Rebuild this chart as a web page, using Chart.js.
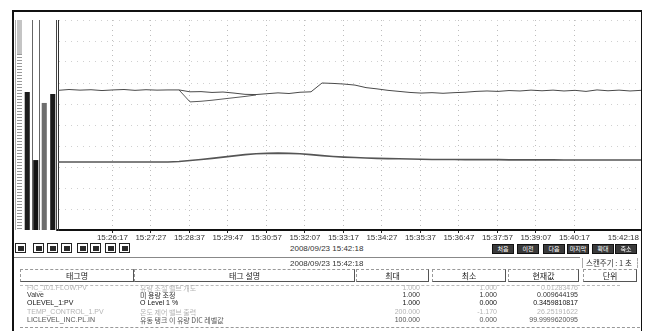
<!DOCTYPE html>
<html>
<head>
<meta charset="utf-8">
<script src="https://cdn.jsdelivr.net/npm/chart.js@4.4.1/dist/chart.umd.min.js"></script>
<style>
  body { margin: 0; background: #fff; width: 649px; height: 331px; overflow: hidden; position: relative;
         font-family: "Liberation Sans", Arial, sans-serif; color: #222; }
  .a { position: absolute; }
  .ln { position: absolute; background: #111; }
  .ic { position: absolute; top: 243px; width: 9px; height: 8px; border: 1px solid #222;
        background: linear-gradient(#2a2a2a, #2a2a2a) center / 6px 5px no-repeat, #fff; }
  .bt { position: absolute; top: 244px; width: 20px; height: 8px; border: 1px solid #111; background: #3a3a3a;
        color: #fff; font: 6px "Noto Sans CJK KR", sans-serif; line-height: 8px; text-align: center; overflow: hidden; }
  .hd { position: absolute; top: 269px; height: 11px; border: 1px dashed #999; border-right: 1px solid #555;
        border-bottom: 1px solid #555; font: 8px "Noto Sans CJK KR", sans-serif; line-height: 11px; text-align: center; color: #222; }
  .c { position: absolute; font-size: 7px; line-height: 8px; white-space: nowrap; color: #333; }
  .k { font-family: "Noto Sans CJK KR", sans-serif; }
  .f { color: #b5b5b5; }
  .r { text-align: right; }
</style>
</head>
<body>
<canvas id="trend" class="a" style="left:0;top:0;width:649px;height:244px" width="649" height="244"></canvas>
<canvas id="gauge" class="a" style="left:23px;top:20px;width:34px;height:210px" width="34" height="210"></canvas>

<!-- frame -->
<div class="ln" style="left:12px;top:10px;width:2px;height:321px"></div>
<div class="ln" style="left:12px;top:10px;width:630px;height:2px"></div>
<div class="ln" style="left:641px;top:10px;width:1px;height:321px"></div>
<div class="ln" style="left:56px;top:20px;width:1px;height:211px;background:#444"></div>
<div class="ln" style="left:32px;top:20px;width:1px;height:210px;background:#666"></div>
<div class="ln" style="left:39px;top:20px;width:1px;height:210px;background:#666"></div>
<div class="ln" style="left:15px;top:20px;width:1px;height:210px;background:#aaa"></div>
<div class="a" style="left:17px;top:20px;width:5px;height:34px;background:#c4c4c4"></div>
<div class="a" style="left:17px;top:54px;width:5px;height:176px;background:repeating-linear-gradient(to bottom,#999 0 1px,transparent 1px 3px)"></div>

<!-- button row -->
<div class="ic" style="left:15px"></div>
<div class="ic" style="left:33px"></div>
<div class="ic" style="left:47px"></div>
<div class="ic" style="left:61px"></div>
<div class="ic" style="left:77px"></div>
<div class="ic" style="left:90px"></div>
<div class="ic" style="left:105px"></div>
<div class="ic" style="left:119px"></div>
<div class="c" style="left:290px;top:245px;font-size:8px">2008/09/23 15:42:18</div>
<div class="bt" style="left:492px">처음</div>
<div class="bt" style="left:517px">이전</div>
<div class="bt" style="left:543px">다음</div>
<div class="bt" style="left:567px">마지막</div>
<div class="bt" style="left:592px">확대</div>
<div class="bt" style="left:615px">축소</div>
<div class="a" style="left:14px;top:257px;width:566px;height:0;border-top:1px solid #888"></div>

<!-- table -->
<div class="c" style="left:290px;top:260px;font-size:8px">2008/09/23 15:42:18</div>
<div class="a" style="left:582px;top:258px;width:54px;height:10px;border-left:1px solid #aaa;border-right:1px dashed #aaa"></div>
<div class="c k" style="left:586px;top:259px;font-size:7.5px">스캔주기 : 1 초</div>
<div class="hd" style="left:20px;width:112px">태그명</div>
<div class="hd" style="left:134px;width:219px">태그 설명</div>
<div class="hd" style="left:356px;width:71px">최대</div>
<div class="hd" style="left:432px;width:72px">최소</div>
<div class="hd" style="left:508px;width:69px">현재값</div>
<div class="hd" style="left:583px;width:52px">단위</div>
<div class="a" style="left:20px;top:285px;width:600px;height:0;border-top:1px dashed #bbb"></div>

<div class="c f" style="left:27px;top:284px">FIC_101.FLOW.PV</div>
<div class="c f k" style="left:140px;top:284px">유량 조절 밸브 개도</div>
<div class="c f r" style="left:380px;top:284px;width:40px">1.000</div>
<div class="c f r" style="left:457px;top:284px;width:40px">1.000</div>
<div class="c f r" style="left:520px;top:284px;width:58px">0.01283476</div>

<div class="c" style="left:27px;top:291px">Valve</div>
<div class="c k" style="left:140px;top:291px">미 용량 조정</div>
<div class="c r" style="left:380px;top:291px;width:40px">1.000</div>
<div class="c r" style="left:457px;top:291px;width:40px">1.000</div>
<div class="c r" style="left:510px;top:291px;width:68px">0.009644195</div>

<div class="c" style="left:27px;top:299px;color:#111">OLEVEL_1:PV</div>
<div class="c" style="left:140px;top:299px;color:#111">O Level 1 %</div>
<div class="c r" style="left:380px;top:299px;width:40px;color:#111">1.000</div>
<div class="c r" style="left:457px;top:299px;width:40px;color:#111">0.000</div>
<div class="c r" style="left:510px;top:299px;width:68px;color:#111">0.3459810817</div>

<div class="c f" style="left:27px;top:308px">TEMP_CONTROL_1.PV</div>
<div class="c f k" style="left:140px;top:308px">온도 제어 밸브 출력</div>
<div class="c f r" style="left:380px;top:308px;width:40px">200.000</div>
<div class="c f r" style="left:457px;top:308px;width:40px">-1.170</div>
<div class="c f r" style="left:510px;top:308px;width:68px">26.25191622</div>

<div class="c" style="left:27px;top:316px;color:#555">LICLEVEL_INC.PL.IN</div>
<div class="c k" style="left:140px;top:316px;color:#555">유동 탱크 이 유량 DIC 레벨값</div>
<div class="c r" style="left:380px;top:316px;width:40px;color:#555">100.000</div>
<div class="c r" style="left:457px;top:316px;width:40px;color:#555">0.000</div>
<div class="c r" style="left:510px;top:316px;width:68px;color:#555">99.9999620095</div>
<div class="a" style="left:20px;top:327px;width:620px;height:0;border-top:1px dashed #999"></div>

<script>
// sample times, seconds after 15:24:18
const sampleSec = [20, 40, 60, 80, 100, 120, 140, 160, 180, 200, 220, 240, 260, 280, 300, 320, 340, 360,
  380, 400, 420, 440, 460, 480, 500, 520, 540, 560, 580, 600, 620, 640, 660, 680, 700, 720,
  740, 760, 780, 800, 820, 840, 860, 880, 900, 920, 940, 960, 980, 1000, 1020, 1040, 1060, 1080];

// upper trace (noisy level)
const upperLevel = [66.5, 66.9, 66.6, 66.8, 66.4, 66.7, 66.9, 66.5, 66.8, 66.6, 66.7, 66.7,
  65.8, 65.9, 65.5, 65.7, 65.2, 64.6, 64.5, 64.9, 65.3, 65.0, 65.6, 65.8,
  70.0, 69.8, 69.5, 69.0, 67.8, 67.2, 66.5, 66.0, 65.5, 65.2, 65.4, 65.1, 65.4, 65.6, 66.0,
  66.2, 66.0, 66.4, 66.2, 66.6, 66.3, 66.6, 66.2, 66.5, 66.0, 66.7, 66.3, 66.6, 66.2, 66.5];

// lower branch of the upper trace where it splits
const upperBand = [null, null, null, null, null, null, null, null, null, null, null, 66.7,
  61.0, 61.3, 61.8, 62.4, 63.0, 63.6, 64.3, null, null, null, null, null,
  null, null, null, null, null, null, null, null, null, null, null, null, null, null, null,
  null, null, null, null, null, null, null, null, null, null, null, null, null, null, null];

// lower trace (smooth)
const lowerLevel = [32.4, 32.4, 32.4, 32.4, 32.4, 32.4, 32.4, 32.4, 32.4, 32.4, 32.4,
  32.6, 33.1, 33.6, 34.1, 34.7, 35.3, 35.9, 36.3, 36.5, 36.6, 36.5, 36.3, 35.9, 35.4, 35.0,
  34.7, 34.5, 34.3, 34.1, 34.0, 33.9, 33.8, 33.7,
  33.6, 33.6, 33.6, 33.5, 33.5, 33.5, 33.5, 33.4, 33.4, 33.4, 33.4, 33.4, 33.3, 33.3, 33.3,
  33.3, 33.3, 33.3, 33.3, 33.3];

const tickSec = [119, 189, 259, 329, 399, 469, 539, 609, 679, 749, 819, 889, 959, 1080];
const tickText = ['15:26:17', '15:27:27', '15:28:37', '15:29:47', '15:30:57', '15:32:07', '15:33:17',
  '15:34:27', '15:35:37', '15:36:47', '15:37:57', '15:39:07', '15:40:17', '15:42:18'];

// bar gauges at left (current values)
const gaugeTags = ['Valve', 'OLEVEL_1', 'TEMP_1', 'LICLEVEL'];
const gaugeValues = [65.7, 33.3, 60.5, 64.8];

const pts = arr => sampleSec.map((t, i) => ({ x: t, y: arr[i] }));

const timeLabels = {
  id: 'timeLabels',
  afterDraw(chart) {
    const { ctx, chartArea, scales: { x } } = chart;
    ctx.save();
    ctx.font = '8px "Liberation Sans", Arial, sans-serif';
    ctx.fillStyle = '#333';
    ctx.textBaseline = 'top';
    x.ticks.forEach((t, i) => {
      const px = x.getPixelForValue(t.value);
      const last = i === x.ticks.length - 1;
      ctx.textAlign = last ? 'right' : 'center';
      ctx.fillText(tickText[i], last ? px - 2 : px, chartArea.bottom + 4);
    });
    ctx.restore();
  }
};

new Chart(document.getElementById('trend'), {
  type: 'line',
  data: {
    datasets: [
      { label: 'upper', data: pts(upperLevel), borderColor: '#4a4a4a', borderWidth: 1, pointRadius: 0, tension: 0 },
      { label: 'band', data: pts(upperBand), borderColor: '#5a5a5a', borderWidth: 1, pointRadius: 0, tension: 0, spanGaps: false },
      { label: 'lower', data: pts(lowerLevel), borderColor: '#555', borderWidth: 1.6, pointRadius: 0, tension: 0 }
    ]
  },
  options: {
    responsive: false,
    animation: false,
    layout: { padding: { left: 58, right: 8, top: 20, bottom: 11 } },
    plugins: { legend: { display: false }, tooltip: { enabled: false } },
    scales: {
      x: {
        type: 'linear', min: 20, max: 1080,
        afterBuildTicks: s => { s.ticks = tickSec.map(v => ({ value: v })); },
        ticks: { display: false },
        grid: { color: '#bdbdbd', drawTicks: true, tickLength: 3, tickColor: '#222' },
        border: { display: true, color: '#111', width: 2, dash: [1, 4] }
      },
      y: {
        min: 0, max: 100,
        ticks: { display: false, stepSize: 10 },
        grid: { color: '#d0d0d0', drawTicks: false },
        border: { display: true, color: '#333', width: 1, dash: [1, 5] }
      }
    }
  },
  plugins: [timeLabels]
});

new Chart(document.getElementById('gauge'), {
  type: 'bar',
  data: {
    labels: gaugeTags,
    datasets: [{ data: gaugeValues, backgroundColor: ['#1c1c1c', '#141414', '#6e6e6e', '#1c1c1c'],
                 categoryPercentage: 1, barPercentage: 0.6 }]
  },
  options: {
    responsive: false,
    animation: false,
    layout: { padding: 0 },
    plugins: { legend: { display: false }, tooltip: { enabled: false } },
    scales: { x: { display: false }, y: { display: false, min: 0, max: 100 } }
  }
});
</script>
</body>
</html>
